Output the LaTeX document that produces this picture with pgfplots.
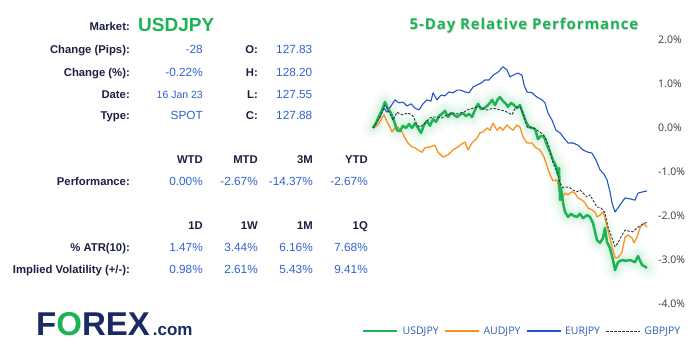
\documentclass[border=0pt]{standalone}
\usepackage{fontspec}
\setmainfont{Liberation Sans}
\newfontfamily\osans{Open Sans}
\newfontfamily\titlefont[LetterSpace=6]{Open Sans}
\usepackage{pgfplots}
\usepackage{pgfplotstable}
\pgfplotsset{compat=1.18}
\definecolor{navy}{HTML}{1C2042}
\definecolor{valblue}{HTML}{2E63D1}
\definecolor{usdgreen}{HTML}{1DB355}
\definecolor{audorange}{HTML}{F7921E}
\definecolor{eurblue}{HTML}{2155C4}
\definecolor{gbpdark}{HTML}{2D3640}
\definecolor{logonavy}{HTML}{1B2A63}
\definecolor{tickc}{HTML}{2E3B47}
\definecolor{legc}{HTML}{2F5FB5}

\pgfplotstableread{
x y
1 0.00
5 0.14
8 0.25
12 0.45
15 0.36
19 0.50
23 0.64
27 0.57
31 0.59
35 0.50
39 0.55
43 0.45
47 0.41
51 0.55
55 0.64
59 0.61
61 0.80
65 0.64
69 0.75
73 0.73
77 0.82
81 0.80
85 0.86
89 0.86
93 0.82
97 0.80
101 0.93
105 0.98
109 1.02
113 1.09
117 1.09
121 1.20
126 1.27
131 1.39
135 1.32
138 1.16
141 1.20
146 1.25
150 1.20
152 0.98
155 0.82
160 0.80
165 0.70
170 0.64
173 0.57
176 0.34
180 0.18
184 -0.05
188 -0.11
192 -0.23
196 -0.34
201 -0.34
206 -0.39
211 -0.50
216 -0.55
220 -0.57
224 -0.73
228 -0.95
232 -1.05
235 -1.18
238 -1.45
240 -1.70
243 -1.91
248 -1.75
253 -1.59
258 -1.61
263 -1.64
266 -1.48
271 -1.45
275 -1.43
}\eur

\pgfplotstableread{
x y
1 0.00
4 0.11
7 0.27
10 0.41
13 0.59
16 0.43
19 0.34
22 0.16
25 -0.05
28 -0.07
31 0.05
34 0.00
37 0.09
40 0.00
43 0.11
46 0.00
49 -0.11
52 0.07
55 0.16
58 0.05
61 0.20
64 0.14
67 0.27
70 0.32
73 0.39
76 0.25
79 0.34
82 0.30
85 0.25
88 0.30
91 0.34
94 0.27
97 0.32
100 0.25
103 0.41
106 0.55
109 0.43
112 0.45
115 0.50
118 0.57
120 0.64
123 0.52
126 0.66
128 0.70
131 0.61
134 0.55
136 0.48
139 0.57
142 0.52
145 0.45
148 0.52
151 0.32
154 0.14
157 0.02
160 0.00
163 -0.02
166 -0.25
169 -0.18
172 -0.20
175 -0.39
178 -0.55
181 -0.73
184 -0.86
186 -1.07
187 -0.91
188 -1.64
189 -1.36
191 -1.70
193 -1.91
196 -2.02
199 -1.95
202 -2.00
205 -2.02
208 -1.95
211 -2.05
215 -1.98
218 -2.02
221 -2.16
225 -2.55
228 -2.61
231 -2.50
233 -2.27
235 -2.59
238 -2.73
241 -3.00
243 -3.23
246 -3.05
250 -3.00
254 -3.02
258 -3.00
263 -3.05
266 -2.91
270 -3.11
275 -3.18
}\usd

\pgfplotstableread{
x y
1 0.00
6 0.07
10 0.23
12 0.30
15 0.14
18 0.02
20 -0.09
23 0.00
26 0.02
30 -0.09
33 -0.23
36 -0.34
40 -0.43
43 -0.45
46 -0.50
50 -0.55
53 -0.45
58 -0.43
63 -0.39
66 -0.55
71 -0.66
76 -0.61
81 -0.50
86 -0.43
91 -0.34
93 -0.32
96 -0.50
100 -0.34
105 -0.23
108 -0.11
111 -0.09
115 0.00
118 -0.05
121 0.11
125 -0.05
128 0.02
131 -0.05
135 0.07
138 0.00
141 -0.05
145 0.07
148 0.02
151 -0.20
155 -0.34
160 -0.34
163 -0.43
168 -0.50
172 -0.66
175 -0.86
178 -1.07
181 -1.20
185 -1.18
188 -1.48
190 -1.59
193 -1.48
196 -1.52
200 -1.45
203 -1.48
206 -1.59
210 -1.64
213 -1.70
216 -1.82
220 -1.86
223 -1.91
225 -2.02
228 -1.98
231 -1.91
233 -2.05
236 -2.32
240 -2.70
243 -2.95
246 -2.95
250 -2.82
253 -2.48
256 -2.43
260 -2.50
262 -2.61
265 -2.48
268 -2.27
271 -2.16
275 -2.25
}\aud

\pgfplotstableread{
x y
1 0.00
5 0.14
8 0.25
11 0.41
13 0.52
16 0.41
19 0.27
21 0.18
25 0.36
28 0.32
31 0.30
35 0.34
38 0.32
41 0.27
45 0.07
48 0.02
53 0.11
58 0.23
62 0.25
65 0.25
70 0.23
75 0.30
81 0.34
85 0.32
88 0.34
92 0.36
95 0.41
101 0.45
105 0.48
108 0.48
112 0.43
115 0.41
118 0.43
121 0.45
125 0.43
128 0.41
132 0.39
135 0.36
140 0.30
143 0.45
146 0.48
148 0.48
151 0.34
155 0.02
160 0.02
165 -0.05
169 -0.11
173 -0.20
176 -0.36
178 -0.50
181 -0.80
185 -1.00
188 -1.25
191 -1.36
195 -1.34
198 -1.36
201 -1.41
205 -1.45
208 -1.41
211 -1.48
215 -1.57
218 -1.52
221 -1.64
225 -1.80
228 -1.80
231 -1.86
233 -1.93
236 -2.25
240 -2.50
243 -2.70
246 -2.61
250 -2.43
253 -2.32
256 -2.34
261 -2.36
265 -2.27
270 -2.20
275 -2.14
}\gbp

\newcommand{\lab}{\bfseries\fontsize{11.3}{13}\selectfont\color{navy}}
\newcommand{\val}{\fontsize{11.8}{13}\selectfont\color{valblue}}

\begin{document}
\begin{tikzpicture}[x=1pt,y=1pt]
\useasboundingbox (0,0) rectangle (696,357);
% ---------- left table ----------
\node[anchor=base east,inner sep=0pt] at (130,326) {\lab Market:};
\node[anchor=base west,inner sep=0pt] at (138,325.5) {\bfseries\fontsize{19}{22}\selectfont\color{usdgreen}USDJPY};

\node[anchor=base east,inner sep=0pt] at (130,303) {\lab Change (Pips):};
\node[anchor=base east,inner sep=0pt] at (203,303) {\val -28};
\node[anchor=base east,inner sep=0pt] at (258,303) {\lab O:};
\node[anchor=base west,inner sep=0pt] at (276,303) {\val 127.83};

\node[anchor=base east,inner sep=0pt] at (130,280.5) {\lab Change (\%):};
\node[anchor=base east,inner sep=0pt] at (203,280.5) {\val -0.22\%};
\node[anchor=base east,inner sep=0pt] at (258,280.5) {\lab H:};
\node[anchor=base west,inner sep=0pt] at (276,280.5) {\val 128.20};

\node[anchor=base east,inner sep=0pt] at (130,258.5) {\lab Date:};
\node[anchor=base east,inner sep=0pt] at (203,258.5) {\fontsize{10.5}{12}\selectfont\color{valblue}16 Jan 23};
\node[anchor=base east,inner sep=0pt] at (258,258.5) {\lab L:};
\node[anchor=base west,inner sep=0pt] at (276,258.5) {\val 127.55};

\node[anchor=base east,inner sep=0pt] at (130,237.5) {\lab Type:};
\node[anchor=base east,inner sep=0pt] at (203,237.5) {\val SPOT};
\node[anchor=base east,inner sep=0pt] at (258,237.5) {\lab C:};
\node[anchor=base west,inner sep=0pt] at (276,237.5) {\val 127.88};

\node[anchor=base east,inner sep=0pt] at (203,194) {\lab WTD};
\node[anchor=base east,inner sep=0pt] at (258,194) {\lab MTD};
\node[anchor=base east,inner sep=0pt] at (313,194) {\lab 3M};
\node[anchor=base east,inner sep=0pt] at (368,194) {\lab YTD};

\node[anchor=base east,inner sep=0pt] at (130,172) {\lab Performance:};
\node[anchor=base east,inner sep=0pt] at (203,172) {\val 0.00\%};
\node[anchor=base east,inner sep=0pt] at (258,172) {\val -2.67\%};
\node[anchor=base east,inner sep=0pt] at (313,172) {\val -14.37\%};
\node[anchor=base east,inner sep=0pt] at (368,172) {\val -2.67\%};

\node[anchor=base east,inner sep=0pt] at (203,128) {\lab 1D};
\node[anchor=base east,inner sep=0pt] at (258,128) {\lab 1W};
\node[anchor=base east,inner sep=0pt] at (313,128) {\lab 1M};
\node[anchor=base east,inner sep=0pt] at (368,128) {\lab 1Q};

\node[anchor=base east,inner sep=0pt] at (130,105.5) {\lab \% ATR(10):};
\node[anchor=base east,inner sep=0pt] at (203,105.5) {\val 1.47\%};
\node[anchor=base east,inner sep=0pt] at (258,105.5) {\val 3.44\%};
\node[anchor=base east,inner sep=0pt] at (313,105.5) {\val 6.16\%};
\node[anchor=base east,inner sep=0pt] at (368,105.5) {\val 7.68\%};

\node[anchor=base east,inner sep=0pt] at (130,84) {\lab Implied Volatility (+/-):};
\node[anchor=base east,inner sep=0pt] at (203,84) {\val 0.98\%};
\node[anchor=base east,inner sep=0pt] at (258,84) {\val 2.61\%};
\node[anchor=base east,inner sep=0pt] at (313,84) {\val 5.43\%};
\node[anchor=base east,inner sep=0pt] at (368,84) {\val 9.41\%};

% ---------- logo ----------
\node[anchor=base west,inner sep=0pt] at (36,22) {\bfseries\fontsize{33}{35}\selectfont{\color{logonavy}F}{\color{usdgreen}O}{\color{logonavy}REX}\fontsize{17}{18}\selectfont\color{logonavy}\kern3pt.com};

% ---------- title ----------
\node[inner sep=0pt,opacity=0.3] at (524.8,330.2) {\titlefont\bfseries\fontsize{15}{17}\selectfont\color{gray}5-Day Relative Performance};
\node[inner sep=0pt] at (524,331) {\titlefont\bfseries\fontsize{15}{17}\selectfont\color{usdgreen}5-Day Relative Performance};

% ---------- chart ----------
\begin{axis}[at={(372pt,53pt)}, anchor=south west, scale only axis,
  width=276pt, height=264pt, xmin=0, xmax=276, ymin=-4, ymax=2,
  axis x line=none, axis y line*=right, y axis line style={draw=none},
  ytick={-4,-3,-2,-1,0,1,2}, major tick length=0pt,
  /pgf/number format/assume math mode=true,
  yticklabel={\pgfmathprintnumber[fixed,fixed zerofill,precision=1]{\tick}\%},
  yticklabel style={anchor=west, inner sep=0pt, xshift=10pt, font=\osans\fontsize{10.5}{12}\selectfont, text=tickc},
  clip=false,
  legend columns=4,
  legend style={at={(-0.0363,-0.1023)}, anchor=west, draw=none, fill=none, inner sep=0pt,
    font=\osans\fontsize{10.5}{12}\selectfont, text=legc,
    nodes={inner sep=1pt},
    /tikz/every odd column/.append style={column sep=3pt},
    /tikz/every even column/.append style={column sep=4.5pt}},
  legend image code/.code={\draw[#1] (0pt,0pt) -- (34pt,0pt);},
  line join=round]
\addplot[forget plot, draw=usdgreen, opacity=0.04, line width=22pt, line cap=round] table {\usd};
\addplot[forget plot, draw=usdgreen, opacity=0.05, line width=14pt, line cap=round] table {\usd};
\addplot[forget plot, draw=usdgreen, opacity=0.07, line width=8pt, line cap=round] table {\usd};
\addplot[forget plot, draw=eurblue, line width=1.1pt] table {\eur};
\addplot[forget plot, draw=audorange, line width=1.3pt] table {\aud};
\addplot[forget plot, draw=usdgreen, line width=2.5pt] table {\usd};
\addplot[forget plot, draw=gbpdark, line width=0.9pt, dash pattern=on 2.5pt off 1.5pt] table {\gbp};
\addlegendimage{draw=usdgreen, line width=2.5pt}
\addlegendentry{USDJPY}
\addlegendimage{draw=audorange, line width=1.3pt}
\addlegendentry{AUDJPY}
\addlegendimage{draw=eurblue, line width=1.1pt}
\addlegendentry{EURJPY}
\addlegendimage{draw=gbpdark, line width=0.9pt, dash pattern=on 2.5pt off 1.5pt}
\addlegendentry{GBPJPY}
\end{axis}
\end{tikzpicture}
\end{document}
